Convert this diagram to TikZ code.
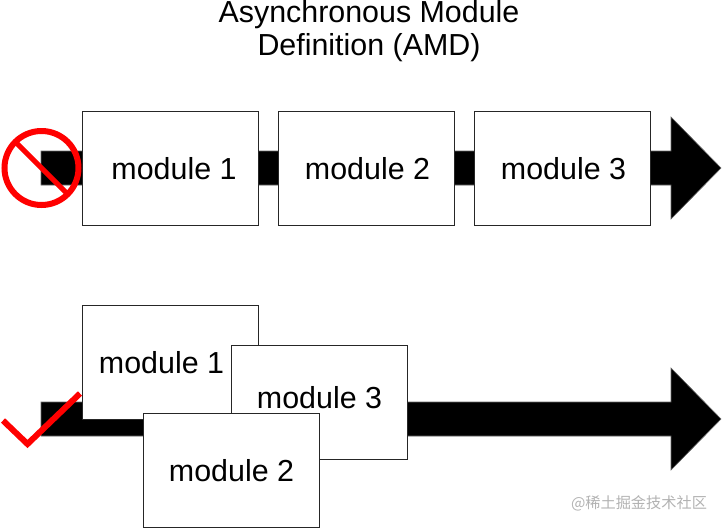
\documentclass[tikz,border=0pt]{standalone}
\usepackage{fontspec}
\setmainfont{Liberation Sans}
\newfontfamily\cjkfont{Noto Sans CJK SC}
\usepackage{tikz}
\usetikzlibrary{positioning}
\definecolor{markred}{RGB}{255,0,0}
\definecolor{wmgray}{RGB}{178,178,178}
\tikzset{
  modbox/.style={draw=black!85,fill=white,line width=1pt,minimum width=176.5pt,minimum height=114pt,inner sep=0pt,text height=23pt,font=\fontsize{30.4}{33}\selectfont},
  bigarrow/.style={fill=black,draw=black!60,line width=0.6pt},
  markline/.style={draw=markred,line width=6pt}
}
\begin{document}
\begin{tikzpicture}[x=1pt,y=-1pt]
          \useasboundingbox (0,0) rectangle (722,528);
          \node[align=center,inner sep=0pt,font=\fontsize{30.4}{32.5}\selectfont] (title) at (369,31) {Asynchronous Module\\Definition (AMD)};
          % top row
          \draw[bigarrow] (41,151) -- (671,151) -- (671,117) -- (721,168) -- (671,219) -- (671,185) -- (41,185) -- cycle;
          \node[modbox] (top1) at (170.5,168) {\hspace*{7pt}module 1};
          \node[modbox,right=18.5pt of top1] (top2) {\hspace*{2pt}module 2};
          \node[modbox,right=18.5pt of top2] (top3) {\hspace*{2pt}module 3};
          \draw[markline] (41.5,168) circle (37);
          \draw[markline,line width=5pt] (15.5,142) -- (67.5,194);
          % bottom row
          \draw[bigarrow] (41,402) -- (671,402) -- (671,368) -- (721,419) -- (671,470) -- (671,436) -- (41,436) -- cycle;
          \node[modbox] (bot1) at (170.5,362) {module 1\hspace*{18pt}};
          \node[modbox] (bot3) at (319.5,402) {\raisebox{5pt}{module 3}};
          \node[modbox] (bot2) at (231.5,470) {module 2};
          \draw[markline] (3,420.5) -- (27.5,444) -- (80,393.5);
          \node[text=wmgray,font=\fontsize{15.2}{18}\cjkfont,inner sep=0pt] (mark) at (639,503) {@稀土掘金技术社区};
        \end{tikzpicture}
\end{document}
